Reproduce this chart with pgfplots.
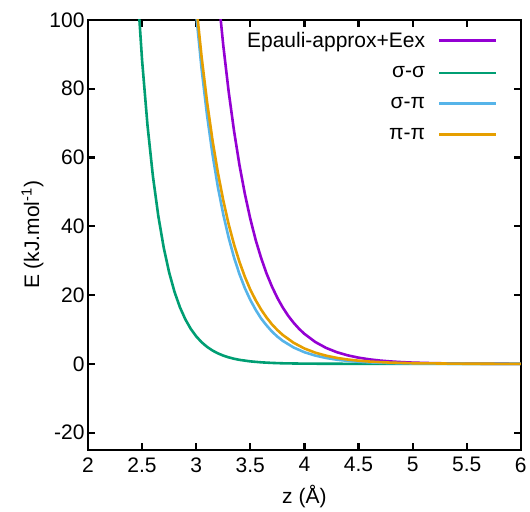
\documentclass[border=0pt]{standalone}
\usepackage{fontspec}
\setmainfont{Liberation Sans}
\usepackage{pgfplots}
\pgfplotsset{compat=1.18}
\definecolor{cpurple}{HTML}{9400D3}
\definecolor{cgreen}{HTML}{009E73}
\definecolor{ccyan}{HTML}{56B4E9}
\definecolor{corange}{HTML}{E69F00}
\begin{document}
\begin{tikzpicture}
\begin{axis}[
  scale only axis,
  width=433pt, height=430pt,
  xmin=2, xmax=6, ymin=-25, ymax=100,
  xtick={2,2.5,...,6},
  ytick={-20,0,20,40,60,80,100},
  tick align=inside,
  major tick length=7pt,
  axis line style={line width=2.6pt},
  every tick/.style={black, line width=2.2pt},
  /pgf/number format/assume math mode=true,
  tick label style={font=\fontsize{21}{25}\selectfont},
  xticklabel style={yshift=-4pt},
  label style={font=\fontsize{21}{25}\selectfont},
  xlabel={z (Å)},
  ylabel={E (kJ.mol\textsuperscript{-1})},
  xlabel style={yshift=-6pt},
  ylabel style={yshift=-1pt},
  legend plot pos=right,
  legend cell align=right,
  legend image code/.code={\path (0pt,0pt); \draw[#1] (11pt,0pt) -- (68pt,0pt);},
  legend style={draw=none, fill=none, at={(rel axis cs:1,1)}, anchor=north east,
    xshift=-20pt, yshift=-8pt, row sep=14pt,
    font=\fontsize{21}{25}\selectfont},
  every axis plot/.append style={line width=2.6pt},
]
\addplot[cpurple] coordinates {
(3.20,108.5)(3.25,92.7)(3.30,79.2)(3.35,67.7)(3.40,57.8)(3.45,49.4)(3.50,42.2)
(3.55,36.0)(3.60,30.8)(3.65,26.3)(3.70,22.5)(3.75,19.2)(3.80,16.4)(3.85,14.0)
(3.90,11.97)(3.95,10.22)(4.00,8.73)(4.10,6.37)(4.20,4.65)(4.30,3.39)(4.40,2.48)
(4.50,1.81)(4.60,1.32)(4.70,0.96)(4.80,0.70)(4.90,0.51)(5.00,0.37)(5.20,0.20)
(5.40,0.106)(5.60,0.056)(5.80,0.030)(6.00,0.016)};
\addlegendentry{Epauli-approx+Eex}
\addplot[cgreen] coordinates {
(2.45,112.2)(2.50,88.3)(2.55,69.4)(2.60,54.6)(2.65,43.0)(2.70,33.8)(2.75,26.6)
(2.80,20.9)(2.85,16.45)(2.90,12.94)(2.95,10.18)(3.00,8.01)(3.05,6.30)(3.10,4.96)
(3.15,3.90)(3.20,3.07)(3.25,2.41)(3.30,1.90)(3.35,1.49)(3.40,1.17)(3.50,0.73)
(3.60,0.45)(3.70,0.28)(3.80,0.17)(4.00,0.066)(4.50,0.006)(5.00,0)(6.00,0)};
\addlegendentry{σ-σ}
\addplot[ccyan] coordinates {
(2.99,105.2)(3.00,101.7)(3.05,85.8)(3.10,72.4)(3.15,61.1)(3.20,51.5)(3.25,43.5)
(3.30,36.7)(3.35,30.9)(3.40,26.1)(3.45,22.0)(3.50,18.6)(3.55,15.7)(3.60,13.2)
(3.65,11.2)(3.70,9.41)(3.75,7.94)(3.80,6.70)(3.90,4.77)(4.00,3.39)(4.10,2.42)
(4.20,1.72)(4.30,1.22)(4.40,0.87)(4.50,0.62)(4.60,0.44)(4.80,0.22)(5.00,0.11)
(5.50,0.02)(6.00,0.004)};
\addlegendentry{σ-π}
\addplot[corange] coordinates {
(2.99,107.9)(3.00,104.5)(3.05,89.3)(3.10,76.3)(3.15,65.2)(3.20,55.7)(3.25,47.6)
(3.30,40.6)(3.35,34.7)(3.40,29.65)(3.45,25.3)(3.50,21.6)(3.55,18.5)(3.60,15.8)
(3.65,13.5)(3.70,11.5)(3.75,9.84)(3.80,8.41)(3.90,6.14)(4.00,4.48)(4.10,3.27)
(4.20,2.39)(4.30,1.74)(4.40,1.27)(4.50,0.93)(4.60,0.68)(4.80,0.36)(5.00,0.19)
(5.50,0.04)(6.00,0.008)};
\addlegendentry{π-π}
\end{axis}
\path (current axis.south west) ++(-88pt,-58pt);
\path (current axis.north east) ++(9pt,20pt);
\end{tikzpicture}
\end{document}
